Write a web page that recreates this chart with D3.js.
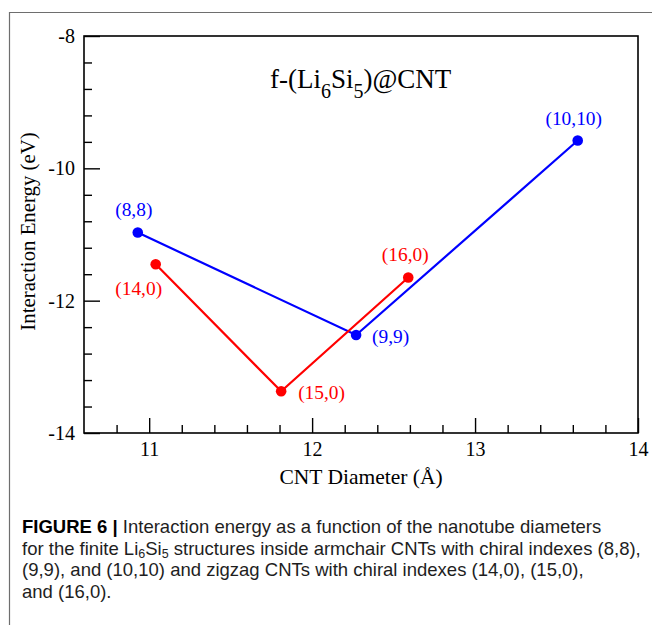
<!DOCTYPE html>
<html>
<head>
<meta charset="utf-8">
<script src="https://cdn.jsdelivr.net/npm/d3@7/dist/d3.min.js"></script>
<style>
  html, body { margin: 0; padding: 0; background: #fff; }
  svg { display: block; }
</style>
</head>
<body>
<svg id="chart" width="652" height="625"></svg>
<script>
// Armchair CNTs (blue) and zigzag CNTs (red): diameter (Å) vs interaction energy (eV)
const armchairLabels = ["(8,8)", "(9,9)", "(10,10)"];
const armchairDiameter = [10.93, 12.27, 13.63];
const armchairEnergy = [-10.97, -12.52, -9.58];

const zigzagLabels = ["(14,0)", "(15,0)", "(16,0)"];
const zigzagDiameter = [11.04, 11.81, 12.59];
const zigzagEnergy = [-11.45, -13.37, -11.65];

const xMajorTicks = [11, 12, 13, 14];
const yMajorTicks = [-8, -10, -12, -14];

const captionLines = [
  [["FIGURE 6 | ", "b"], ["Interaction energy as a function of the nanotube diameters", ""]],
  [["for the finite Li", ""], ["6", "sub"], ["Si", "up"], ["5", "sub"], [" structures inside armchair CNTs with chiral indexes (8,8),", "up"]],
  [["(9,9), and (10,10) and zigzag CNTs with chiral indexes (14,0), (15,0),", ""]],
  [["and (16,0).", ""]]
];

const serif = "'Liberation Serif', 'Times New Roman', serif";
const sans = "'Liberation Sans', Arial, sans-serif";

const svg = d3.select("#chart");

// outer panel border
svg.append("path")
  .attr("d", "M9.5,625 L9.5,12.5 L652,12.5")
  .attr("fill", "none")
  .attr("stroke", "#6e6e6e")
  .attr("stroke-width", 1.2);

const plotL = 84, plotR = 638, plotT = 36, plotB = 433;
const x = d3.scaleLinear().domain([10.6, 14]).range([plotL, plotR]);
const y = d3.scaleLinear().domain([-14, -8]).range([plotB, plotT]);

// minor ticks
const xMinor = d3.range(10.8, 14.0001, 0.2).filter(v => Math.abs(v - Math.round(v)) > 1e-6);
const yMinor = d3.range(-13.6, -8.0001, 0.4).filter(v => Math.abs(v / 2 - Math.round(v / 2)) > 1e-6);

const axisStyle = g => {
  g.attr("font-family", serif).attr("font-size", 20);
  g.select(".domain").remove();
  g.selectAll("line").attr("stroke", "#000").attr("stroke-width", 1.4);
  g.selectAll("text")
    .attr("font-family", serif).attr("font-size", 20).attr("fill", "#000")
    .style("font-family", serif);
};

svg.append("g").attr("transform", `translate(0,${plotB})`)
  .call(d3.axisBottom(x).tickValues(xMinor).tickSize(-8).tickFormat(""))
  .call(axisStyle);
svg.append("g").attr("transform", `translate(0,${plotB})`)
  .call(d3.axisBottom(x).tickValues(xMajorTicks).tickSize(-15).tickPadding(9).tickFormat(d3.format("d")))
  .call(axisStyle);

svg.append("g").attr("transform", `translate(${plotL},0)`)
  .call(d3.axisLeft(y).tickValues(yMinor).tickSize(-8).tickFormat(""))
  .call(axisStyle);
svg.append("g").attr("transform", `translate(${plotL},0)`)
  .call(d3.axisLeft(y).tickValues(yMajorTicks).tickSize(-16).tickPadding(9).tickFormat(d => String(d)))
  .call(axisStyle);

// plot frame
svg.append("rect")
  .attr("x", plotL).attr("y", plotT)
  .attr("width", plotR - plotL).attr("height", plotB - plotT)
  .attr("fill", "none").attr("stroke", "#000").attr("stroke-width", 1.6);

// axis titles
svg.append("text")
  .attr("x", 361).attr("y", 483.5)
  .attr("text-anchor", "middle")
  .attr("font-family", serif).attr("font-size", 21.5)
  .text("CNT Diameter (Å)");

svg.append("text")
  .attr("transform", "translate(35,231.5) rotate(-90)")
  .attr("text-anchor", "middle")
  .attr("font-family", serif).attr("font-size", 20.8)
  .text("Interaction Energy (eV)");

// in-plot title
const title = svg.append("text")
  .attr("x", 270).attr("y", 88)
  .attr("font-family", serif).attr("font-size", 27);
title.append("tspan").text("f-(Li");
title.append("tspan").attr("font-size", 20).attr("dy", 10).text("6");
title.append("tspan").attr("dy", -10).text("Si");
title.append("tspan").attr("font-size", 20).attr("dy", 10).text("5");
title.append("tspan").attr("dy", -10).text(")@CNT");

// series
const series = [
  { color: "#0000ff", labels: armchairLabels, xs: armchairDiameter, ys: armchairEnergy,
    offsets: [[-4, -17, "middle"], [16, 8, "start"], [-4, -16, "middle"]] },
  { color: "#ff0000", labels: zigzagLabels, xs: zigzagDiameter, ys: zigzagEnergy,
    offsets: [[-17, 31, "middle"], [17, 8, "start"], [-3, -17, "middle"]] }
];

const line = d3.line().x(d => x(d[0])).y(d => y(d[1]));

series.forEach(s => {
  const pts = s.xs.map((v, i) => [v, s.ys[i], s.labels[i], s.offsets[i]]);
  svg.append("path")
    .datum(pts)
    .attr("d", line)
    .attr("fill", "none")
    .attr("stroke", s.color)
    .attr("stroke-width", 2.2);
  svg.selectAll(null).data(pts).enter().append("circle")
    .attr("cx", d => x(d[0])).attr("cy", d => y(d[1]))
    .attr("r", 5.3).attr("fill", s.color);
  svg.selectAll(null).data(pts).enter().append("text")
    .attr("x", d => x(d[0]) + d[3][0])
    .attr("y", d => y(d[1]) + d[3][1])
    .attr("text-anchor", d => d[3][2])
    .attr("font-family", serif).attr("font-size", 19.4)
    .attr("fill", s.color)
    .text(d => d[2]);
});

// caption in a narrowed sans face: one horizontal squeeze for all rows,
// chosen so the second (longest) row ends at the panel edge
const capRows = captionLines.map((parts, i) => {
  const yPos = 533 + i * 21.6;
  const g = svg.append("g").attr("transform", `translate(22,${yPos})`);
  const t = g.append("text").attr("x", 0).attr("y", 0)
    .attr("font-family", sans).attr("font-size", 18.5).attr("fill", "#1e1e1e");
  parts.forEach(([txt, kind]) => {
    const sp = t.append("tspan").text(txt);
    if (kind === "b") sp.attr("font-weight", "bold").attr("fill", "#000");
    if (kind === "sub") sp.attr("font-size", 12.5).attr("dy", 3);
    if (kind === "up") sp.attr("dy", -3);
  });
  return { g, t, yPos };
});
const squeeze = (641 - 22) / capRows[1].t.node().getComputedTextLength();
capRows.forEach(r => r.g.attr("transform", `translate(22,${r.yPos}) scale(${squeeze},1)`));
</script>
</body>
</html>
